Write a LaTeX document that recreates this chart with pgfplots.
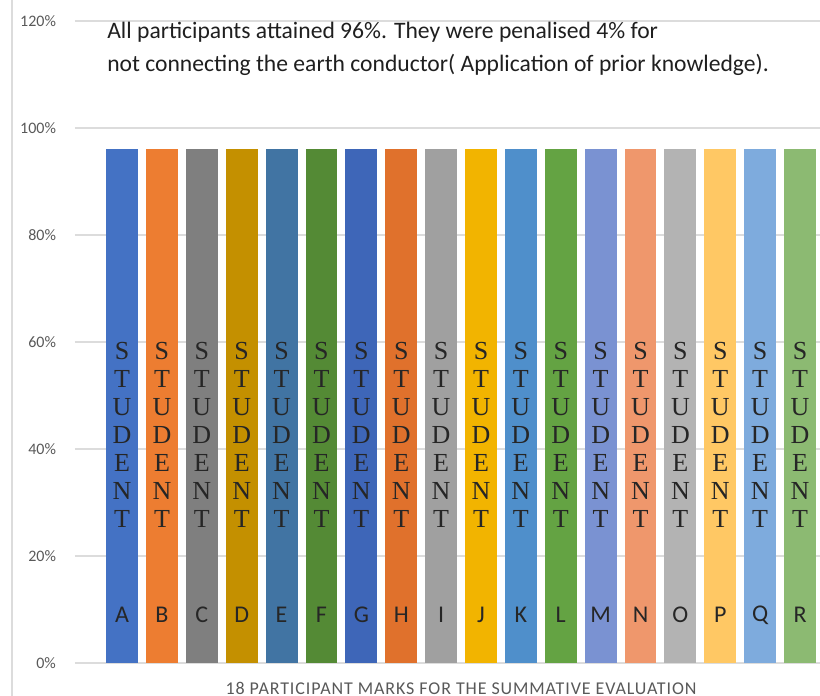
\documentclass[border=0pt]{standalone}
\usepackage{pgfplots}
\pgfplotsset{compat=1.18}
\usepackage{fontspec}
\setmainfont{Carlito}
\newfontfamily\serifface{Liberation Serif}
\newfontfamily\spacedface[LetterSpace=5]{Carlito}

\definecolor{cA}{HTML}{4472C4}
\definecolor{cB}{HTML}{ED7D31}
\definecolor{cC}{HTML}{7F7F7F}
\definecolor{cD}{HTML}{C49000}
\definecolor{cE}{HTML}{4174A3}
\definecolor{cF}{HTML}{548A35}
\definecolor{cG}{HTML}{3E66B8}
\definecolor{cH}{HTML}{E0712C}
\definecolor{cI}{HTML}{A0A0A0}
\definecolor{cJ}{HTML}{F2B400}
\definecolor{cK}{HTML}{4F8FCB}
\definecolor{cL}{HTML}{64A343}
\definecolor{cM}{HTML}{7A92D2}
\definecolor{cN}{HTML}{EF976C}
\definecolor{cO}{HTML}{B3B3B3}
\definecolor{cP}{HTML}{FFC864}
\definecolor{cQ}{HTML}{7EABDD}
\definecolor{cR}{HTML}{8CBA72}
\definecolor{gridgray}{HTML}{DCDCDC}
\definecolor{txtgray}{HTML}{595959}

% one student's bar: position, colour, letter, mark
\newcommand\student[4]{%
  \addplot[fill=#2, draw=none, bar shift=0pt] coordinates {(#1,#4)};
  \node[font=\fontsize{12}{13}\selectfont, text=black!85] at (axis cs:#1,9) {#3};
  \node[font=\serifface\fontsize{13}{14}\selectfont, text=black!85, align=center, inner sep=0pt]
    at (axis cs:#1,42.6) {S\\T\\U\\D\\E\\N\\T};
}

\begin{document}
\begin{tikzpicture}
\useasboundingbox (0,0) rectangle (410pt,348pt);
\draw[gridgray, line width=0.6pt] (6pt,0) -- (6pt,348pt);
\begin{axis}[
  at={(37.5pt,16.5pt)}, anchor=south west,
  scale only axis, width=372.5pt, height=321pt,
  ybar, bar width=0.8,
  xmin=-1.18, xmax=17.5,
  ymin=0, ymax=120,
  ytick={0,20,...,120},
  xtick=\empty,
  yticklabel={\pgfmathprintnumber{\tick}\%},
  /pgf/number format/assume math mode=true,
  yticklabel style={font=\fontsize{8}{9}\selectfont, text=txtgray, xshift=-6pt},
  major tick length=0pt,
  ymajorgrids, grid style={gridgray, line width=0.6pt},
  axis line style={draw=none},
  clip=false,
]
\student{0}{cA}{A}{96}
\student{1}{cB}{B}{96}
\student{2}{cC}{C}{96}
\student{3}{cD}{D}{96}
\student{4}{cE}{E}{96}
\student{5}{cF}{F}{96}
\student{6}{cG}{G}{96}
\student{7}{cH}{H}{96}
\student{8}{cI}{I}{96}
\student{9}{cJ}{J}{96}
\student{10}{cK}{K}{96}
\student{11}{cL}{L}{96}
\student{12}{cM}{M}{96}
\student{13}{cN}{N}{96}
\student{14}{cO}{O}{96}
\student{15}{cP}{P}{96}
\student{16}{cQ}{Q}{96}
\student{17}{cR}{R}{96}
\node[anchor=base west, align=left, font=\fontsize{11.8}{16.5}\selectfont, text=black!88, inner sep=0pt]
  at (axis cs:-0.38,110.6) {All participants attained 96\%. They were penalised 4\% for\\not connecting the earth conductor( Application of prior knowledge).};
\end{axis}
\node[font=\spacedface\fontsize{9}{10}\selectfont, text=txtgray] at (230.5pt,4pt) {18 PARTICIPANT MARKS FOR THE SUMMATIVE EVALUATION};
\end{tikzpicture}
\end{document}
